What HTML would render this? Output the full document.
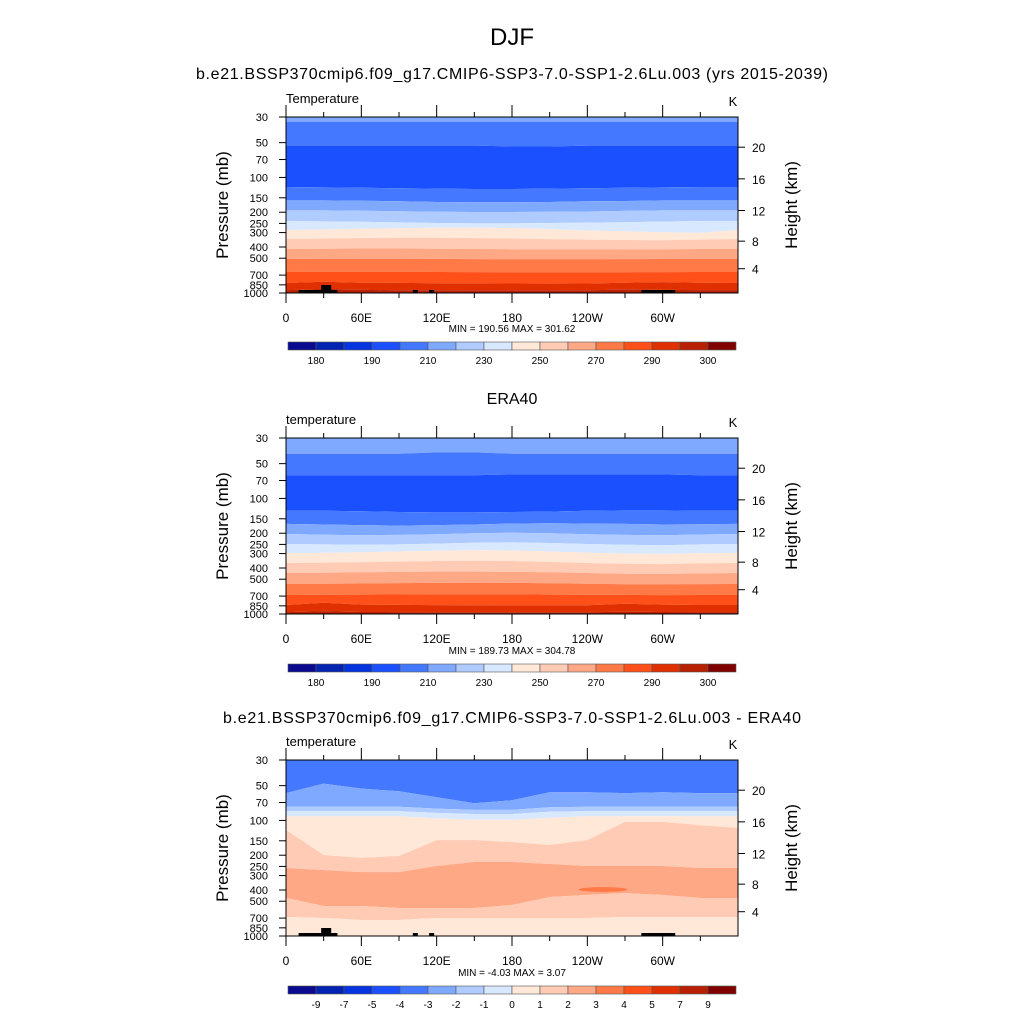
<!DOCTYPE html>
<html><head><meta charset="utf-8"><style>
html,body{margin:0;padding:0;background:#fff;}
svg{display:block;font-family:"Liberation Sans",sans-serif;}
</style></head><body>
<svg id="fig" width="1024" height="1024" viewBox="0 0 1024 1024" xmlns="http://www.w3.org/2000/svg">
<text x="512" y="45" font-size="24" text-anchor="middle">DJF</text>
</svg>
<script>
// ---- data ----
const palette = ["#0a0a8f","#0324b0","#0433e0","#1a50ff","#4479ff","#7fa8ff","#b0cbff","#d8e8ff","#ffe8d8","#ffcbb4","#ffa886","#ff7a47","#ff5019","#e03000","#b82000","#800000"];
const lons = [0,30,60,90,120,150,180,210,240,270,300,330,360];
const pTicks = [30,50,70,100,150,200,250,300,400,500,700,850,1000];
const hTicks = [4,8,12,16,20];
const lonTickVals = [0,60,120,180,240,300];
const lonTickLabels = ["0","60E","120E","180","120W","60W"];
const cbLabels1 = ["180","190","210","230","250","270","290","300"];
const cbLabelPos1 = [1,3,5,7,9,11,13,15];
const cbLabels3 = ["-9","-7","-5","-4","-3","-2","-1","0","1","2","3","4","5","7","9"];
const cbLabelPos3 = [1,2,3,4,5,6,7,8,9,10,11,12,13,14,15];

const p1Colors = [6,5,4,5,6,7,8,9,10,11,12,13,14,15];
const p1Bounds = [
 [33,33,33,33,33,33,33,33,33,33,33,33,33],
 [53,53,53,53,53,53,54,54,53,53,53,53,53],
 [121,122,123,124,125,126,126,125,124,123,122,121,121],
 [158,158,159,161,163,164,164,163,161,160,158,158,158],
 [193,193,194,196,198,199,199,198,197,195,193,193,193],
 [238,240,242,245,248,250,250,248,246,244,241,238,238],
 [285,282,278,275,273,272,274,280,288,292,298,302,285],
 [341,338,335,333,333,335,338,342,345,348,350,345,341],
 [416,414,412,412,414,416,418,420,420,418,418,416,416],
 [508,506,505,505,507,509,510,510,510,509,508,508,508],
 [658,656,655,656,658,660,662,662,662,661,660,658,658],
 [820,800,815,818,822,825,828,830,828,815,805,815,820],
 [943,930,940,945,948,950,950,950,948,935,940,943,943]
];
const p2Colors = [6,5,4,5,6,7,8,9,10,11,12,13,14,15];
const p2Bounds = [
 [41,41,41,41,40,40,41,41,41,41,41,41,41],
 [63,63,63,63,63,63,62,62,62,62,62,63,63],
 [128,128,129,131,132,132,131,130,128,127,127,128,128],
 [166,168,170,172,170,168,165,164,165,166,168,167,166],
 [203,206,208,207,204,200,198,200,204,207,208,205,203],
 [248,250,252,250,246,242,240,243,248,252,254,250,248],
 [297,296,292,288,284,280,282,288,295,300,302,298,297],
 [362,360,356,352,348,346,348,355,362,368,370,364,362],
 [442,440,436,432,430,430,432,436,442,448,450,445,442],
 [550,548,545,540,538,536,538,542,548,552,553,551,550],
 [685,682,680,678,676,675,676,679,682,684,686,685,685],
 [836,800,830,835,838,840,842,842,840,815,830,836,836],
 [962,945,960,962,964,965,965,965,964,955,960,962,962]
];
const p3Colors = [5,6,7,8,9,10,11,10,9];
const p3Bounds = [
 [58,48,53,56,63,71,67,57,57,58,57,58,58],
 [76,76,76,76,79,81,81,77,76,76,76,76,76],
 [83,83,83,83,86,88,88,84,83,83,83,83,83],
 [92,92,92,92,96,99,99,95,92,92,92,92,92],
 [121,199,211,203,148,148,154,163,148,103,103,110,116],
 [258,269,280,280,248,229,229,238,248,248,248,258,258],
 [469,550,550,573,573,573,539,460,442,425,442,469,469],
 [685,699,727,727,699,699,699,699,699,685,685,685,685]
];
const p3Blob = [233,272,377,416];
const masks = [[10,41,942],[28,36,853],[101,105,942],[114,118,942],[283,310,942]];

const NS = "http://www.w3.org/2000/svg";
const svg = document.getElementById('fig');
function mk(tag, attrs, parent){
  const e = document.createElementNS(NS, tag);
  for (const k in attrs) e.setAttribute(k, attrs[k]);
  (parent||svg).appendChild(e);
  return e;
}
function txt(x,y,s,size,anchor,parent){
  const t = mk('text',{x:x,y:y,'font-size':size,'text-anchor':anchor||'start'},parent);
  t.textContent = s; return t;
}
const X0 = 286, X1 = 738, H = 176;
function xS(lon){ return X0 + lon/360*(X1-X0); }
function yS(top,p){ return top + Math.log(p/30)/Math.log(1000/30)*H; }
function hToP(z){ z*=1000; return z<=11000 ? 1013.25*Math.pow(1-2.25577e-5*z,5.25588) : 226.32*Math.exp(-(z-11000)/6341.6); }

function drawPanel(top, colors, bounds, showMask, blob, title){
  const g = mk('g',{});
  
  
  for (let i=0;i<colors.length;i++){
    const upper = i===0 ? lons.map(()=>30) : bounds[i-1];
    const lower = i===colors.length-1 ? lons.map(()=>1000) : bounds[i];
    let pts = [];
    lons.forEach((l,j)=>pts.push(xS(l).toFixed(1)+','+yS(top,upper[j]).toFixed(1)));
    for (let j=lons.length-1;j>=0;j--) pts.push(xS(lons[j]).toFixed(1)+','+yS(top,lower[j]).toFixed(1));
    const pg = mk('polygon',{points:pts.join(' '),fill:palette[colors[i]-1]},g);
    
    
  }
  if (blob){
    const e = mk('ellipse',{cx:(xS(blob[0])+xS(blob[1]))/2,cy:(yS(top,blob[2])+yS(top,blob[3]))/2,rx:(xS(blob[1])-xS(blob[0]))/2,ry:(yS(top,blob[3])-yS(top,blob[2]))/2,fill:palette[11]},g);
    
    
  }
  if (showMask){
    masks.forEach(m=>{
      const r = mk('rect',{x:xS(m[0]),y:yS(top,m[2]),width:xS(m[1])-xS(m[0]),height:top+H-yS(top,m[2]),fill:'#000'},g);
      
      
    });
  }
  const fr = mk('rect',{x:X0,y:top,width:X1-X0,height:H,fill:'none',stroke:'#000','stroke-width':1});
  
  
  pTicks.forEach(p=>{
    const y = yS(top,p);
    mk('line',{x1:279,x2:X0,y1:y,y2:y,stroke:'#000'});
    const t = txt(268,y+4,String(p),11,'end');
    
    
  });
  hTicks.forEach(h=>{
    const y = yS(top,hToP(h));
    mk('line',{x1:X1,x2:X1+7,y1:y,y2:y,stroke:'#000'});
    const t = txt(752,y+5,String(h),12,'start');
    
    
  });
  for (let l=0;l<=330;l+=30){
    const major = l%60===0;
    const x = xS(l);
    mk('line',{x1:x,x2:x,y1:top,y2:top-(major?12:5),stroke:'#000'});
    mk('line',{x1:x,x2:x,y1:top+H,y2:top+H+(major?10:5),stroke:'#000'});
  }
  lonTickVals.forEach((l,i)=>{
    const t = txt(xS(l),top+H+29,lonTickLabels[i],12,'middle');
    
    
  });
  const yl = txt(0,0,'Pressure (mb)',17,'middle');
  yl.setAttribute('transform','translate(228,'+(top+H/2)+') rotate(-90)');
  
  
  const yr = txt(0,0,'Height (km)',17,'middle');
  yr.setAttribute('transform','translate(797,'+(top+H/2)+') rotate(-90)');
  
  
  const lt = txt(286,top-14,title,13,'start');
  
  
  const ut = txt(733,top-11,'K',13,'middle');
  
  
}
function drawColorbar(y, labels, pos, minmax, mmY){
  const w = (736-288)/16;
  for (let i=0;i<16;i++){
    const r = mk('rect',{x:288+i*w,y:y,width:w,height:8,fill:palette[i],stroke:'#555','stroke-width':0.6});
    
    
  }
  labels.forEach((s,i)=>{
    const t = txt(288+pos[i]*w,y+22,s,10,'middle');
    
    
  });
  const m = txt(512,mmY,minmax,10,'middle');
  
  
}

const st1 = txt(512,79,'b.e21.BSSP370cmip6.f09_g17.CMIP6-SSP3-7.0-SSP1-2.6Lu.003 (yrs 2015-2039)',16,'middle');
st1.setAttribute('textLength','632');


drawPanel(117,p1Colors,p1Bounds,true,null,'Temperature');
drawColorbar(342,cbLabels1,cbLabelPos1,'MIN = 190.56  MAX = 301.62',332);

const st2 = txt(512,404,'ERA40',16,'middle');


drawPanel(438,p2Colors,p2Bounds,false,null,'temperature');
drawColorbar(664,cbLabels1,cbLabelPos1,'MIN = 189.73  MAX = 304.78',654);

const st3 = txt(512,723,'b.e21.BSSP370cmip6.f09_g17.CMIP6-SSP3-7.0-SSP1-2.6Lu.003 - ERA40',16,'middle');
st3.setAttribute('textLength','578');


drawPanel(760,p3Colors,p3Bounds,true,p3Blob,'temperature');
drawColorbar(986,cbLabels3,cbLabelPos3,'MIN =  -4.03  MAX =   3.07',976);
</script>
</body></html>
